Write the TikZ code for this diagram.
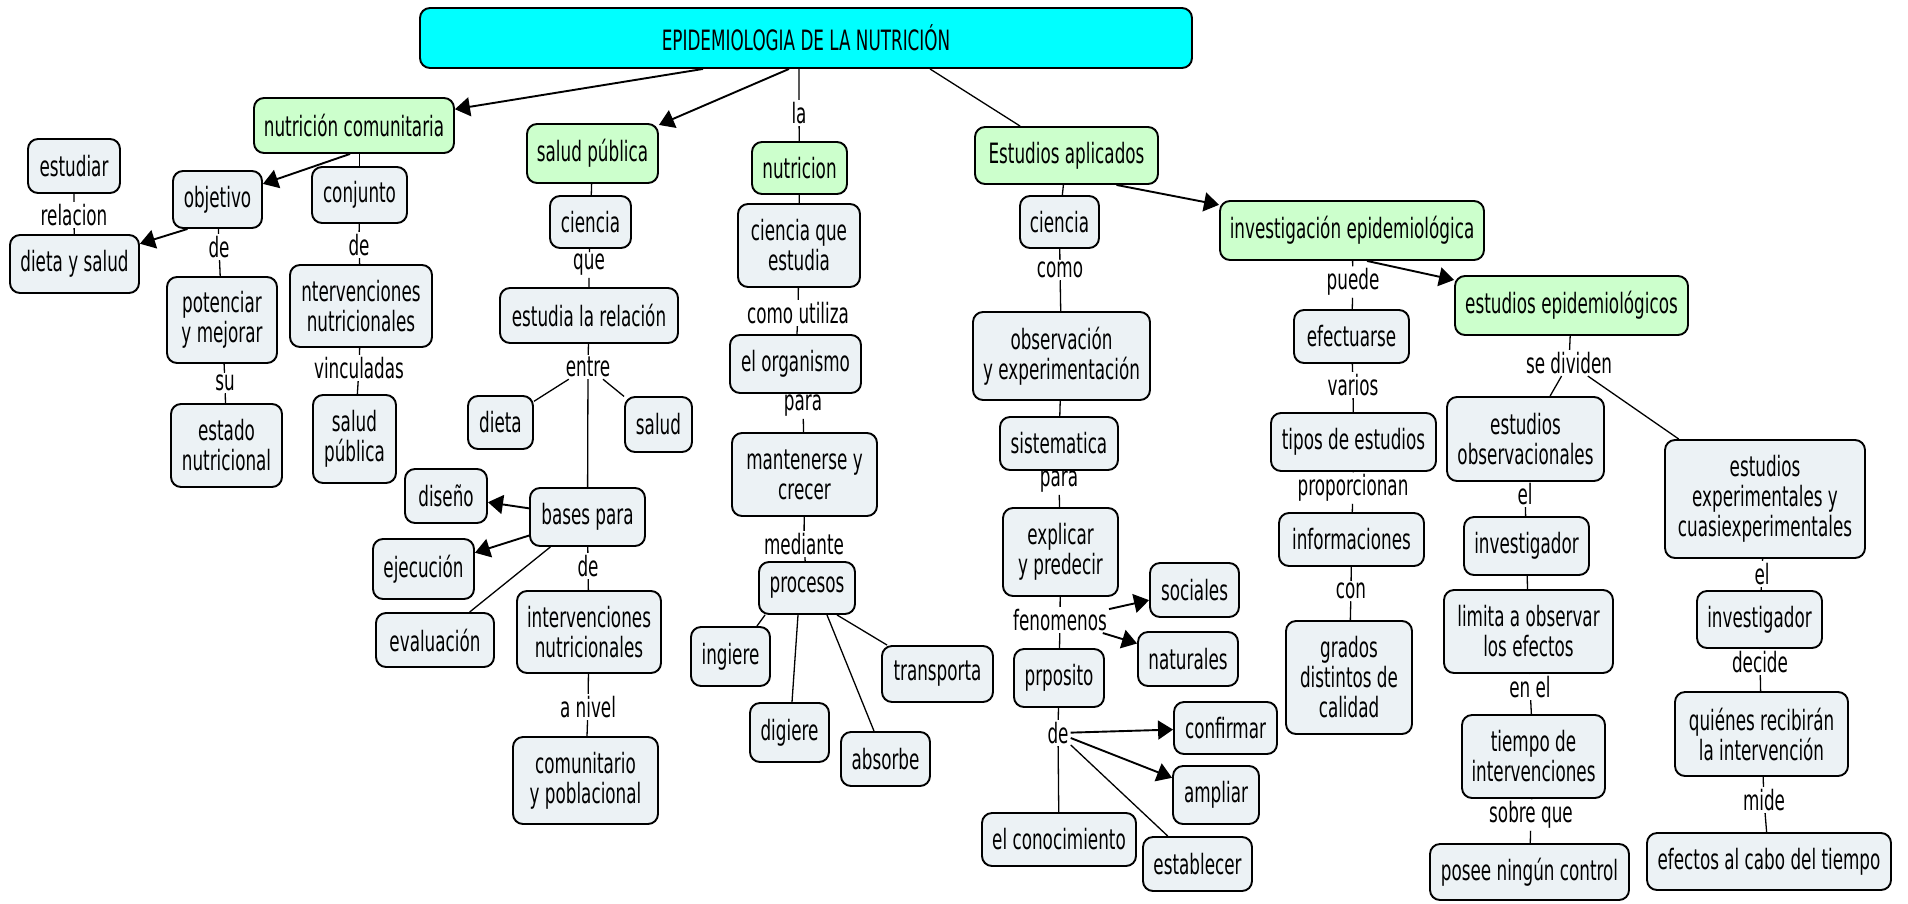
\documentclass[tikz,border=0pt]{standalone}
\usepackage{fontspec}
\setmainfont{DejaVu Sans}[FakeStretch=0.6]
\usetikzlibrary{arrows.meta}
\definecolor{boxgray}{RGB}{236,242,245}
\definecolor{boxgreen}{RGB}{204,255,204}
\definecolor{titlecyan}{RGB}{0,255,255}

\begin{document}
\begin{tikzpicture}[x=1pt,y=-1pt,
    every node/.style={font=\fontsize{28}{30}\selectfont},
    box/.style={draw, rounded corners=10pt, fill=boxgray, align=center, inner sep=2pt, line width=1.9pt},
    gbox/.style={box, fill=boxgreen},
    lbl/.style={inner sep=2pt},
    con/.style={line width=1.3pt},
    arr/.style={line width=1.9pt, -{Triangle[length=15pt,width=19pt]}}]
    \path[use as bounding box, fill=white] (0,0) rectangle (1908,903);

    % title
    \node[box, fill=titlecyan, minimum width=772pt, minimum height=60pt] (title) at (806,38) {EPIDEMIOLOGIA DE LA NUTRICIÓN};

    % main branches
    \node[gbox, minimum width=200pt, minimum height=55pt] (nc) at (354,125.5) {nutrición comunitaria};
    \node[gbox, minimum width=131pt, minimum height=59pt] (sp) at (592.5,153.5) {salud pública};
    \node[gbox, minimum width=95pt, minimum height=52pt] (nut) at (799.5,168) {nutricion};
    \node[gbox, minimum width=183pt, minimum height=57pt] (ea) at (1066.5,155.5) {Estudios aplicados};
    \node[gbox, minimum width=264pt, minimum height=59pt] (ie) at (1352,230.5) {investigación epidemiológica};
    \node[gbox, minimum width=233pt, minimum height=59pt] (ee) at (1571.5,305.5) {estudios epidemiológicos};

    % nutricion comunitaria
    \node[box, minimum width=92pt, minimum height=54pt] (estudiar) at (74,166) {estudiar};
    \node[box, minimum width=89pt, minimum height=57pt] (obj) at (217.5,199.5) {objetivo};
    \node[box, minimum width=95pt, minimum height=56pt] (conj) at (359.5,195) {conjunto};
    \node[box, minimum width=129pt, minimum height=58pt] (dys) at (74.5,264) {dieta y salud};
    \node[box, minimum width=110pt, minimum height=86pt] (pot) at (222,320) {potenciar\\y mejorar};
    \node[box, minimum width=142pt, minimum height=82pt] (nint1) at (361,306) {ntervenciones\\nutricionales};
    \node[box, minimum width=111pt, minimum height=83pt] (estado) at (226.5,445.5) {estado\\nutricional};
    \node[box, minimum width=83pt, minimum height=88pt] (sp2) at (354.5,439) {salud\\pública};
    \node[lbl] (relacion) at (74,215) {relacion};
    \node[lbl] (de1) at (219,247) {de};
    \node[lbl] (su) at (225,383) {su};
    \node[lbl] (de2) at (359,245) {de};
    \node[lbl] (vinc) at (359,368) {vinculadas};

    % salud publica
    \node[box, minimum width=81pt, minimum height=52pt] (cien1) at (590.5,222) {ciencia};
    \node[box, minimum width=178pt, minimum height=55pt] (estrel) at (589,315.5) {estudia la relación};
    \node[box, minimum width=65pt, minimum height=53pt] (dieta) at (500.5,422.5) {dieta};
    \node[box, minimum width=67pt, minimum height=55pt] (salud) at (658.5,424.5) {salud};
    \node[box, minimum width=82pt, minimum height=54pt] (diseno) at (446,496) {diseño};
    \node[box, minimum width=115pt, minimum height=58pt] (bases) at (587.5,517) {bases para};
    \node[box, minimum width=101pt, minimum height=60pt] (ejec) at (423.5,569) {ejecución};
    \node[box, minimum width=118pt, minimum height=54pt] (eval) at (435,640) {evaluación};
    \node[box, minimum width=144pt, minimum height=82pt] (nint2) at (589,632) {intervenciones\\nutricionales};
    \node[box, minimum width=145pt, minimum height=87pt] (comun) at (585.5,780.5) {comunitario\\y poblacional};
    \node[lbl] (que) at (589,265) {que};
    \node[lbl] (entre) at (588,367) {entre};
    \node[lbl] (de3) at (588,566) {de};
    \node[lbl] (anivel) at (588,707) {a nivel};

    % nutricion
    \node[box, minimum width=122pt, minimum height=83pt] (cqe) at (799,245.5) {ciencia que\\estudia};
    \node[box, minimum width=131pt, minimum height=58pt] (org) at (795.5,364) {el organismo};
    \node[box, minimum width=145pt, minimum height=83pt] (mant) at (804.5,474.5) {mantenerse y\\crecer};
    \node[box, minimum width=96pt, minimum height=52pt] (proc) at (807,588) {procesos};
    \node[box, minimum width=79pt, minimum height=59pt] (ingiere) at (730.5,656.5) {ingiere};
    \node[box, minimum width=79pt, minimum height=59pt] (digiere) at (789.5,732.5) {digiere};
    \node[box, minimum width=89pt, minimum height=54pt] (absorbe) at (885.5,759) {absorbe};
    \node[box, minimum width=111pt, minimum height=56pt] (transp) at (937.5,674) {transporta};
    \node[lbl] (la) at (799,113) {la};
    \node[lbl] (comout) at (798,313) {como utiliza};
    \node[lbl] (para1) at (803,406) {para};
    \node[lbl] (mediante) at (804,544) {mediante};

    % estudios aplicados
    \node[box, minimum width=79pt, minimum height=52pt] (cien2) at (1059.5,222) {ciencia};
    \node[box, minimum width=177pt, minimum height=88pt] (obs) at (1061.5,356) {observación\\y experimentación};
    \node[box, minimum width=118pt, minimum height=53pt] (sis) at (1059,443.5) {sistematica};
    \node[box, minimum width=115pt, minimum height=88pt] (expl) at (1060.5,552) {explicar\\y predecir};
    \node[box, minimum width=89pt, minimum height=54pt] (soc) at (1194.5,590) {sociales};
    \node[box, minimum width=100pt, minimum height=54pt] (nat) at (1188,659) {naturales};
    \node[box, minimum width=90pt, minimum height=58pt] (prp) at (1059,678) {prposito};
    \node[box, minimum width=103pt, minimum height=52pt] (conf) at (1225.5,728) {confirmar};
    \node[box, minimum width=86pt, minimum height=58pt] (ampl) at (1216,795) {ampliar};
    \node[box, minimum width=154pt, minimum height=53pt] (conoc) at (1059,839.5) {el conocimiento};
    \node[box, minimum width=109pt, minimum height=54pt] (estab) at (1197.5,864) {establecer};
    \node[lbl] (como) at (1060,270) {como};
    \node[lbl] (para2) at (1059,482) {para};
    \node[lbl] (fen) at (1060,620) {fenomenos};
    \node[lbl] (de4) at (1058,733) {de};

    % investigacion epidemiologica
    \node[box, minimum width=115pt, minimum height=53pt] (efect) at (1351.5,336.5) {efectuarse};
    \node[box, minimum width=165pt, minimum height=58pt] (tipos) at (1353.5,442) {tipos de estudios};
    \node[box, minimum width=145pt, minimum height=53pt] (info) at (1351.5,539.5) {informaciones};
    \node[box, minimum width=126pt, minimum height=113pt] (grados) at (1349,677.5) {grados\\distintos de\\calidad};
    \node[lbl] (puede) at (1353,282) {puede};
    \node[lbl] (varios) at (1353,385) {varios};
    \node[lbl] (propor) at (1353,488) {proporcionan};
    \node[lbl] (con) at (1351,591) {con};

    % estudios epidemiologicos
    \node[box, minimum width=157pt, minimum height=84pt] (eobs) at (1525.5,439) {estudios\\observacionales};
    \node[box, minimum width=125pt, minimum height=58pt] (invobs) at (1526.5,546) {investigador};
    \node[box, minimum width=169pt, minimum height=83pt] (lim) at (1528.5,631.5) {limita a observar\\los efectos};
    \node[box, minimum width=143pt, minimum height=83pt] (tiempo) at (1533.5,756.5) {tiempo de\\intervenciones};
    \node[box, minimum width=199pt, minimum height=56pt] (posee) at (1529.5,872) {posee ningún control};
    \node[box, minimum width=200pt, minimum height=118pt] (eexp) at (1765,499) {estudios\\experimentales y\\cuasiexperimentales};
    \node[box, minimum width=125pt, minimum height=57pt] (invexp) at (1759.5,619.5) {investigador};
    \node[box, minimum width=173pt, minimum height=84pt] (quien) at (1761.5,734) {quiénes recibirán\\la intervención};
    \node[box, minimum width=244pt, minimum height=57pt] (efcabo) at (1769,861.5) {efectos al cabo del tiempo};
    \node[lbl] (sediv) at (1569,363) {se dividen};
    \node[lbl] (el1) at (1525,494) {el};
    \node[lbl] (enel) at (1530,687) {en el};
    \node[lbl] (sobre) at (1531,815) {sobre que};
    \node[lbl] (el2) at (1762,574) {el};
    \node[lbl] (decide) at (1760,662) {decide};
    \node[lbl] (mide) at (1764,800) {mide};

    % connectors from title
    \draw[arr] ([xshift=-103pt]title.south) -- (nc);
    \draw[arr] ([xshift=-17pt]title.south) -- (sp);
    \draw[con] (title.south -| la) -- (la) -- (nut) -- (cqe);
    \draw[con] ([xshift=124pt]title.south) -- (ea);

    % nutricion comunitaria
    \draw[arr] ([xshift=-4pt]nc.south) -- (obj);
    \draw[con] (conj |- nc.south) -- (conj);
    \draw[arr] ([xshift=-30pt]obj.south) -- (dys);
    \draw[con] (estudiar) -- (relacion) -- (dys);
    \draw[con] (obj) -- (de1) -- (pot) -- (su) -- (estado);
    \draw[con] (conj) -- (de2) -- (nint1) -- (vinc) -- (sp2);

    % salud publica
    \draw[con] (sp) -- (cien1) -- (que) -- (estrel) -- (entre) -- (bases);
    \draw[con] (entre) -- (dieta);
    \draw[con] (entre) -- (salud);
    \draw[arr] (bases) -- (diseno);
    \draw[arr] (bases) -- (ejec);
    \draw[con] (bases) -- (eval);
    \draw[con] (bases) -- (de3) -- (nint2) -- (anivel) -- (comun);

    % nutricion
    \draw[con] (cqe) -- (comout) -- (org) -- (para1) -- (mant) -- (mediante) -- (proc);
    \draw[con] ([xshift=7pt]proc.south west) -- ([xshift=-14pt]ingiere.north east);
    \draw[con] ([xshift=-9pt]proc.south) -- ([xshift=2.5pt]digiere.north);
    \draw[con] ([xshift=20pt]proc.south) -- ([xshift=-11.5pt]absorbe.north);
    \draw[con] ([xshift=30pt]proc.south) -- ([xshift=6pt]transp.north west);

    % estudios aplicados
    \draw[arr] ([xshift=50pt]ea.south) -- (ie);
    \draw[con] (ea) -- (cien2) -- (como) -- (obs) -- (sis) -- (para2) -- (expl) -- (fen) -- (prp) -- (de4) -- (conoc);
    \draw[arr] (fen) -- (soc);
    \draw[arr] (fen) -- (nat);
    \draw[arr] (de4) -- (conf);
    \draw[arr] (de4) -- (ampl);
    \draw[con] (de4) -- (estab);

    % investigacion epidemiologica
    \draw[arr] ([xshift=15pt]ie.south) -- (ee);
    \draw[con] (ie) -- (puede) -- (efect) -- (varios) -- (tipos) -- (propor) -- (info) -- (con) -- (grados);

    % estudios epidemiologicos
    \draw[con] (ee) -- (sediv);
    \draw[con] (sediv) -- (eobs);
    \draw[con] (sediv) -- (eexp);
    \draw[con] (eobs) -- (el1) -- (invobs) -- (lim) -- (enel) -- (tiempo) -- (sobre) -- (posee);
    \draw[con] (eexp) -- (el2) -- (invexp) -- (decide) -- (quien) -- (mide) -- (efcabo);
\end{tikzpicture}
\end{document}
